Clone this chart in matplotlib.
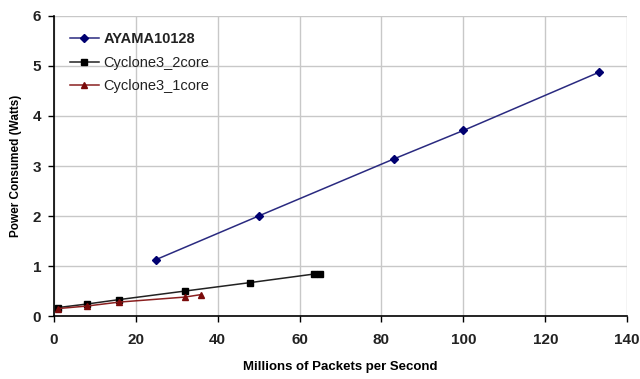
import matplotlib
matplotlib.use("Agg")
import matplotlib.pyplot as plt

ayama_x = [25, 50, 83, 100, 133]
ayama_y = [1.13, 2.0, 3.14, 3.71, 4.87]
c2_x = [1, 8, 16, 32, 48, 63.5, 65]
c2_y = [0.17, 0.24, 0.33, 0.50, 0.67, 0.84, 0.84]
c1_x = [1, 8, 16, 32, 36]
c1_y = [0.15, 0.20, 0.28, 0.38, 0.43]

x_ticks = [0, 20, 40, 60, 80, 100, 120, 140]
y_ticks = [0, 1, 2, 3, 4, 5, 6]

plt.rcParams['font.family'] = ['Liberation Sans', 'DejaVu Sans']

fig = plt.figure(figsize=(6.4, 3.79), dpi=100)
ax = fig.add_axes([0.084, 0.166, 0.896, 0.792])

ax.plot(ayama_x, ayama_y, color='#2a2a80', lw=1.1, marker='D', ms=4,
        mfc='#000070', mec='#000070', label='AYAMA10128')
ax.plot(c2_x, c2_y, color='#222222', lw=1.1, marker='s', ms=4.5,
        mfc='black', mec='black', label='Cyclone3_2core')
ax.plot(c1_x, c1_y, color='#8a2020', lw=1.1, marker='^', ms=5,
        mfc='#7a0a0a', mec='#7a0a0a', label='Cyclone3_1core')

ax.set_xlim(0, 140)
ax.set_ylim(0, 6)
ax.set_xticks(x_ticks)
ax.set_yticks(y_ticks)
ax.grid(True, color='#c8c8c8', lw=1)
ax.set_axisbelow(True)
for s in ['top', 'right']:
    ax.spines[s].set_visible(False)
for s in ['left', 'bottom']:
    ax.spines[s].set_color('black')
    ax.spines[s].set_linewidth(1.2)
ax.tick_params(axis='both', length=4, width=1, labelsize=11)
ax.tick_params(axis='x', pad=8)
ax.tick_params(axis='y', pad=5)
for lab in ax.get_xticklabels() + ax.get_yticklabels():
    lab.set_fontweight('bold')
    lab.set_color('#222222')

ax.set_xlabel('Millions of Packets per Second', fontsize=9.5, fontweight='bold', labelpad=10)
ax.set_ylabel('Power Consumed (Watts)', fontsize=8.5, fontweight='bold', labelpad=8)

leg = ax.legend(loc='upper left', frameon=False, fontsize=10.5, handlelength=2.0,
                handletextpad=0.3, labelspacing=0.65, borderaxespad=0.0,
                bbox_to_anchor=(0.018, 0.965))
for t in leg.get_texts():
    t.set_color('#222222')
leg.get_texts()[0].set_fontweight('bold')

fig.savefig('out.png', dpi=100, facecolor='white')
